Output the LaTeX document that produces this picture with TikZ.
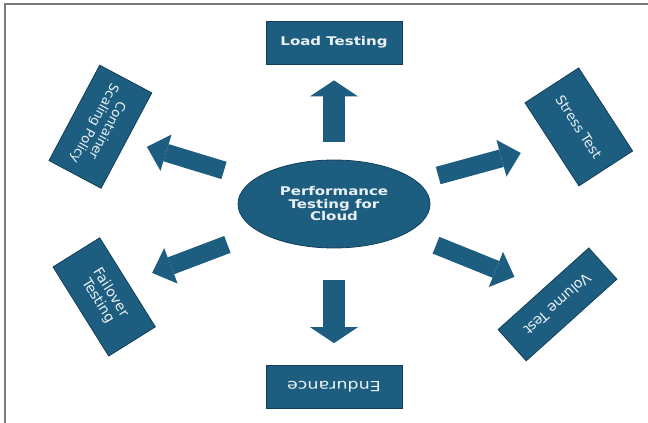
\documentclass[tikz,border=0pt]{standalone}
\usepackage{fontspec}
\setmainfont{DejaVu Sans}
\newfontfamily\widesans[FakeStretch=1.25]{DejaVu Sans}
\usetikzlibrary{arrows.meta,shapes.geometric}

\definecolor{cloudblue}{HTML}{1D5E80}
\definecolor{cloudedge}{HTML}{123F57}
\definecolor{cloudtext}{HTML}{EAF1F5}
\definecolor{framegray}{HTML}{7A7A7A}

\begin{document}
\begin{tikzpicture}[
    x=1pt, y=-1pt, % pixel grid, y downwards
    box/.style={draw=cloudedge, fill=cloudblue, line width=0.8pt, text=cloudtext,
        align=center, inner sep=2pt, font=\fontsize{13.5}{15}\selectfont},
    hub/.style={box, ellipse, minimum width=192pt, minimum height=88pt,
        font=\widesans\bfseries\fontsize{12}{12.5}\selectfont},
    flow/.style={draw=cloudblue, line width=18pt,
        -{Triangle[width=38pt, length=20pt, line width=0pt]}},
    bigflow/.style={flow, line width=22pt,
        -{Triangle[width=48pt, length=16pt, line width=0pt]}}
]

    % --- 1. page and frame ---
    \useasboundingbox (0,0) rectangle (648,423);
    \draw[framegray, line width=1.5pt] (5,423) -- (5,4) -- (648,4);

    % --- 2. centre ellipse ---
    \node[hub] (hub) at (334,204) {Performance\\Testing for\\Cloud};

    % --- 3. the six boxes ---
    \node[box, minimum width=136pt, minimum height=43pt,
        font=\widesans\bfseries\fontsize{12}{14}\selectfont] (load) at (334,42.5) {Load Testing};
    \node[box, minimum width=136pt, minimum height=43pt, rotate=180,
        font=\widesans\fontsize{14}{16}\selectfont] (endur) at (334,387) {Endurance};
    \node[box, minimum width=108pt, minimum height=59pt, rotate=242,
        font=\fontsize{13}{14.5}\selectfont] (csp) at (100.4,126.7) {Container\\Scaling Policy};
    \node[box, minimum width=99pt, minimum height=64pt, rotate=-57] (stress) at (578.8,126.9) {Stress Test};
    \node[box, minimum width=105pt, minimum height=55pt, rotate=-58,
        font=\fontsize{14}{15}\selectfont] (fail) at (104.2,296.9) {Failover\\Testing};
    \node[box, minimum width=122pt, minimum height=42pt, rotate=222,
        font=\fontsize{14}{16}\selectfont] (vol) at (557.5,304.4) {Volume Test};

    % --- 4. block arrows out of the ellipse ---
    \draw[bigflow, shorten <=62pt, shorten >=16pt] (hub.center) -- (load.south);
    \draw[bigflow, shorten <=76pt, shorten >=22pt] (hub.center) -- (endur.south);
    \draw[flow, shorten <=115pt, shorten >=21pt] (hub.center) -- (csp.north);
    \draw[flow, shorten <=108pt, shorten >=32pt] (hub.center) -- (stress.south);
    \draw[flow, shorten <=114pt, shorten >=26pt] (hub.center) -- (fail.north);
    \draw[flow, shorten <=110pt, shorten >=31pt] (hub.center) -- (vol.south);

\end{tikzpicture}
\end{document}
